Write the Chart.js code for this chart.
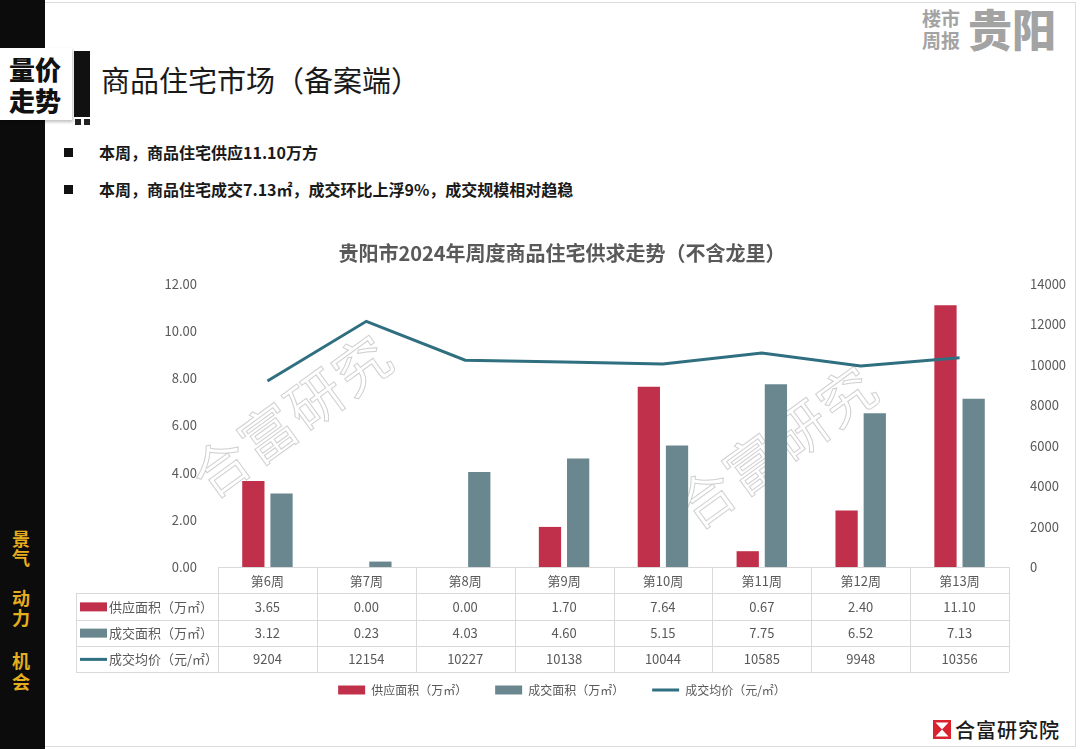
<!DOCTYPE html>
<html>
<head>
<meta charset="utf-8">
<script src="https://cdn.jsdelivr.net/npm/chart.js@4.4.1/dist/chart.umd.min.js"></script>
<style>
html,body{margin:0;padding:0;width:1080px;height:749px;overflow:hidden;background:#fff;font-family:"Noto Sans CJK SC","Noto Sans",sans-serif;}
#page{position:relative;width:1080px;height:749px;overflow:hidden;}
.frame{position:absolute;left:0;top:2px;width:1076px;height:745px;border:1px solid #dcdcdc;box-sizing:border-box;}
.side{position:absolute;left:0;top:0;width:45px;height:749px;background:#0c0c0c;}
.tag{position:absolute;left:0;top:48px;width:72px;height:72px;background:#fff;box-shadow:1px 2px 3px rgba(0,0,0,0.25);}
.tag div{position:absolute;left:9px;font-size:26px;font-weight:900;color:#111;line-height:30px;letter-spacing:0px;}
.bar{position:absolute;left:74px;top:51px;width:16px;height:66px;background:#111;}
.sq{position:absolute;top:119px;width:6px;height:6px;background:#222;}
.title{position:absolute;left:101px;top:60px;font-size:29px;color:#1a1a1a;line-height:38px;white-space:nowrap;}
.bul{position:absolute;left:64px;width:9px;height:9px;background:#111;}
.btxt{position:absolute;left:99px;font-size:16px;font-weight:700;color:#1a1a1a;line-height:20px;white-space:nowrap;}
.side-t{position:absolute;left:12px;font-size:18px;font-weight:700;color:#e6ae1e;line-height:18px;}
.tr1{position:absolute;left:922px;font-size:19px;font-weight:700;color:#a3a3a3;line-height:20px;}
.tr2{position:absolute;left:968px;top:4px;font-size:44px;font-weight:900;color:#a3a3a3;line-height:48px;letter-spacing:0px;}
.wm{position:absolute;font-size:56px;font-weight:400;color:#fff;-webkit-text-stroke:1px #d0d0d0;white-space:nowrap;transform:translate(-50%,-50%) rotate(-36deg);letter-spacing:2px;}
#c{position:absolute;left:44px;top:230px;}
.logo{position:absolute;left:933px;top:720px;}
.logot{position:absolute;left:955px;top:716px;font-size:20px;font-weight:500;color:#1a1a1a;line-height:28px;letter-spacing:1px;}
</style>
</head>
<body>
<div id="page">
  <div class="frame"></div>
  <div class="side"></div>
  <div class="side-t" style="top:529px">景</div>
  <div class="side-t" style="top:548px">气</div>
  <div class="side-t" style="top:588px">动</div>
  <div class="side-t" style="top:608px">力</div>
  <div class="side-t" style="top:651px">机</div>
  <div class="side-t" style="top:672px">会</div>
  <div class="tag"><div style="top:6px">量价</div><div style="top:37px">走势</div></div>
  <div class="bar"></div>
  <div class="sq" style="left:75px"></div>
  <div class="sq" style="left:84px"></div>
  <div class="title">商品住宅市场（备案端）</div>
  <div class="bul" style="top:148px"></div>
  <div class="btxt" style="top:142px">本周，商品住宅供应11.10万方</div>
  <div class="bul" style="top:185px"></div>
  <div class="btxt" style="top:179px">本周，商品住宅成交7.13㎡，成交环比上浮9%，成交规模相对趋稳</div>
  <div class="tr1" style="top:8px">楼市</div>
  <div class="tr1" style="top:30px">周报</div>
  <div class="tr2">贵阳</div>
  <div class="wm" style="left:290px;top:413px">合富研究</div>
  <div class="wm" style="left:775px;top:444px">合富研究</div>
  <canvas id="c" width="1036" height="476"></canvas>
  <svg class="logo" width="18" height="19" viewBox="0 0 18 19">
    <rect x="0" y="0" width="18" height="19" fill="#d9232e"/>
    <polygon points="2.5,2.5 15.5,2.5 9,9.5" fill="#fff"/>
    <polygon points="2.5,16.5 15.5,16.5 9,9.5" fill="#fff"/>
  </svg>
  <div class="logot">合富研究院</div>
</div>
<script>
const categories = ['第6周','第7周','第8周','第9周','第10周','第11周','第12周','第13周'];
const supplyArea = [3.65, 0.00, 0.00, 1.70, 7.64, 0.67, 2.40, 11.10];
const dealArea = [3.12, 0.23, 4.03, 4.60, 5.15, 7.75, 6.52, 7.13];
const avgPrice = [9204, 12154, 10227, 10138, 10044, 10585, 9948, 10356];
const seriesNames = ['供应面积（万㎡）','成交面积（万㎡）','成交均价（元/㎡）'];
const leftTicks = [0, 2, 4, 6, 8, 10, 12];
const rightTicks = [0, 2000, 4000, 6000, 8000, 10000, 12000, 14000];
const chartTitle = '贵阳市2024年周度商品住宅供求走势（不含龙里）';

const RED = '#c0304a', TEAL = '#6a8790', LINE = '#2f6f80';
const FONT = '"Noto Sans CJK SC","Noto Sans",sans-serif';
const TXT = '#595959';

const tablePlugin = {
  id: 'dataTable',
  afterDraw(chart) {
    const ctx = chart.ctx;
    const xs = chart.scales.x;
    const ca = chart.chartArea;
    const n = categories.length;
    const cw = (ca.right - ca.left) / n;
    const rowH = 26.25;
    const top = ca.bottom;
    const labelLeft = ca.left - 142;
    const crisp = v => Math.round(v) + 0.5;
    ctx.save();
    ctx.strokeStyle = '#d9d9d9';
    ctx.lineWidth = 1;
    ctx.beginPath();
    ctx.moveTo(ca.left, crisp(top)); ctx.lineTo(ca.right, crisp(top));
    for (let r = 1; r <= 4; r++) {
      const y = crisp(top + r * rowH);
      ctx.moveTo(labelLeft, y); ctx.lineTo(ca.right, y);
    }
    for (let i = 0; i <= n; i++) {
      const x = crisp(ca.left + i * cw);
      ctx.moveTo(x, top); ctx.lineTo(x, top + 4 * rowH);
    }
    ctx.moveTo(crisp(labelLeft), top + rowH); ctx.lineTo(crisp(labelLeft), top + 4 * rowH);
    ctx.stroke();

    ctx.font = '13px ' + FONT;
    ctx.fillStyle = TXT;
    ctx.textAlign = 'center';
    ctx.textBaseline = 'middle';
    const rows = [
      categories,
      supplyArea.map(v => v.toFixed(2)),
      dealArea.map(v => v.toFixed(2)),
      avgPrice.map(v => String(v))
    ];
    rows.forEach((row, r) => {
      const y = top + r * rowH + rowH / 2 + 0.5;
      row.forEach((t, i) => {
        ctx.fillText(t, xs.getPixelForValue(i), y);
      });
    });
    ctx.textAlign = 'left';
    const mx = labelLeft + 4;
    const mw = 27;
    for (let r = 1; r <= 3; r++) {
      const y = top + r * rowH + rowH / 2 + 0.5;
      if (r === 3) {
        ctx.strokeStyle = LINE; ctx.lineWidth = 3;
        ctx.beginPath(); ctx.moveTo(mx, y); ctx.lineTo(mx + mw, y); ctx.stroke();
      } else {
        ctx.fillStyle = r === 1 ? RED : TEAL;
        ctx.fillRect(mx, y - 4.5, mw, 9);
      }
      ctx.fillStyle = TXT;
      ctx.fillText(seriesNames[r - 1], mx + mw + 2, y);
    }
    ctx.restore();
  }
};

new Chart(document.getElementById('c'), {
  data: {
    labels: categories,
    datasets: [
      { type: 'bar', label: seriesNames[0], data: supplyArea, backgroundColor: RED, yAxisID: 'y', order: 1,
        categoryPercentage: 0.57, barPercentage: 0.79 },
      { type: 'bar', label: seriesNames[1], data: dealArea, backgroundColor: TEAL, yAxisID: 'y', order: 1,
        categoryPercentage: 0.57, barPercentage: 0.79 },
      { type: 'line', label: seriesNames[2], data: avgPrice, borderColor: LINE, backgroundColor: LINE, borderWidth: 3,
        pointRadius: 0, tension: 0, yAxisID: 'y1', order: 0, borderCapStyle: 'butt' }
    ]
  },
  options: {
    responsive: false,
    animation: false,
    devicePixelRatio: 1,
    layout: { padding: 0 },
    plugins: {
      title: { display: true, text: chartTitle, color: TXT, font: { family: FONT, size: 20, weight: 'bold' },
        padding: { top: 11, bottom: 19 } },
      legend: {
        position: 'bottom',
        labels: {
          usePointStyle: true, pointStyleWidth: 27, boxHeight: 9, padding: 28,
          color: TXT, font: { family: FONT, size: 12 },
          sort: (a, b) => a.datasetIndex - b.datasetIndex,
          generateLabels(chart) {
            const items = Chart.defaults.plugins.legend.labels.generateLabels(chart);
            items.forEach(it => {
              if (it.datasetIndex === 2) { it.pointStyle = 'line'; it.lineWidth = 3; it.strokeStyle = LINE; }
              else { it.pointStyle = 'rect'; it.lineWidth = 0; }
            });
            return items;
          }
        }
      },
      tooltip: { enabled: false }
    },
    scales: {
      x: {
        display: true,
        grid: { display: false }, border: { display: false }, ticks: { display: false },
        afterFit(s) { s.height = 89; }
      },
      y: {
        position: 'left', min: 0, max: 12,
        grid: { display: false }, border: { display: false },
        afterBuildTicks(s) { s.ticks = leftTicks.map(v => ({ value: v })); },
        ticks: { color: TXT, font: { family: FONT, size: 13 }, padding: 13, callback: v => Number(v).toFixed(2) },
        afterFit(s) { s.width = 174; }
      },
      y1: {
        position: 'right', min: 0, max: 14000,
        grid: { display: false }, border: { display: false },
        afterBuildTicks(s) { s.ticks = rightTicks.map(v => ({ value: v })); },
        ticks: { color: TXT, font: { family: FONT, size: 13 }, padding: 13, callback: v => String(v) },
        afterFit(s) { s.width = 71; }
      }
    }
  },
  plugins: [tablePlugin]
});
</script>
</body>
</html>
